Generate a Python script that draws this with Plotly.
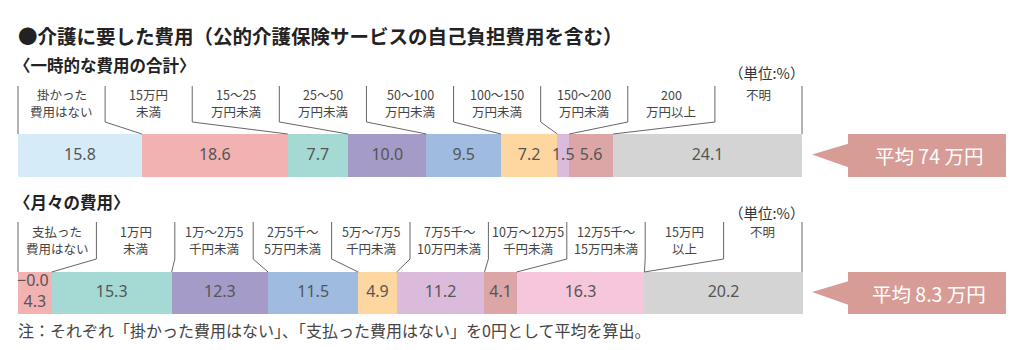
import numpy as np
import plotly.graph_objects as go

# ---------------- data ----------------
title = "●介護に要した費用（公的介護保険サービスの自己負担費用を含む）"
sub1 = "〈一時的な費用の合計〉"
sub2 = "〈月々の費用〉"
unit = "（単位:%）"
note = "注：それぞれ「掛かった費用はない」、「支払った費用はない」を0円として平均を算出。"

cats1 = ["掛かった<br>費用はない", "15万円<br>未満", "15～25<br>万円未満", "25～50<br>万円未満",
         "50～100<br>万円未満", "100～150<br>万円未満", "150～200<br>万円未満", "200<br>万円以上", "不明"]
vals1 = [15.8, 18.6, 7.7, 10.0, 9.5, 7.2, 1.5, 5.6, 24.1]
avg1 = "平均 74 万円"

cats2 = ["支払った<br>費用はない", "1万円<br>未満", "1万～2万5<br>千円未満", "2万5千～<br>5万円未満",
         "5万～7万5<br>千円未満", "7万5千～<br>10万円未満", "10万～12万5<br>千円未満",
         "12万5千～<br>15万円未満", "15万円<br>以上", "不明"]
vals2 = [4.3, 15.3, 12.3, 11.5, 4.9, 11.2, 4.1, 16.3, 0.0, 20.2]
avg2 = "平均 8.3 万円"

colors1 = ["#d5ecf8", "#f2b2b2", "#a5d9d4", "#a49bc8", "#a0bbe0", "#fdd6a0", "#dbbbdc", "#dca6a6", "#d4d4d4"]
colors2 = ["#f2b2b2", "#a5d9d4", "#a49bc8", "#a0bbe0", "#fdd6a0", "#dbbbdc", "#dca6a6", "#f6c6dc", "#d5ecf8", "#d4d4d4"]

# ---------------- layout helpers (pixel geometry) ----------------
W, H = 1024, 350
X0, PX_PER = 18, 7.84          # 0% at 18px, 1% = 7.84px
def px(p):                      # pixel -> axis(%) coordinate
    return (p - X0) / PX_PER

CJK = "Noto Sans CJK JP"
LINE = "#666666"
TXT = "#555555"
CALL = "#d89c96"

rows = [
    dict(cats=cats1, vals=vals1, colors=colors1, avg=avg1, sub=sub1, sub_y=65, unit_y=72,
         top=134, bot=177, lab_top=86, kink=122, line1=94),
    dict(cats=cats2, vals=vals2, colors=colors2, avg=avg2, sub=sub2, sub_y=202, unit_y=212,
         top=272, bot=314, lab_top=222, kink=259, line1=231),
]

fig = go.Figure()
shapes, annos = [], []

for r in rows:
    vals = np.array(r["vals"])
    base = np.concatenate([[0], np.cumsum(vals)[:-1]])
    yc = (r["top"] + r["bot"]) / 2
    thick = r["bot"] - r["top"]
    fig.add_trace(go.Bar(
        orientation="h", y=[yc] * len(vals), x=vals, base=base, width=thick,
        marker=dict(color=r["colors"], line=dict(width=0)),
        hoverinfo="skip", showlegend=False))

    # value labels
    tx, ty, tt, tp = [], [], [], []
    for i, (b, v) in enumerate(zip(base, vals)):
        if v == 0:
            tx.append(px(X0 - 1)); ty.append(yc - 11); tt.append("−" + f"{v:.1f}"); tp.append("middle right")
        elif v < 5 and i == 0:
            tx.append(b + v / 2); ty.append(yc + 10); tt.append(f"{v:.1f}"); tp.append("middle center")
        else:
            tx.append(b + v / 2); ty.append(yc); tt.append(f"{v:.1f}"); tp.append("middle center")
    fig.add_trace(go.Scatter(
        x=tx, y=ty, text=tt, mode="text", textposition=tp,
        textfont=dict(family="Noto Sans", size=16, color=TXT),
        hoverinfo="skip", showlegend=False, cliponaxis=False))

    # category labels and leader lines
    n = len(r["cats"])
    slot = 100 / n
    cum = np.cumsum(vals)
    for k, c in enumerate(r["cats"]):
        for j, part in enumerate(c.split("<br>")):
            annos.append(dict(x=(k + 0.5) * slot, y=r["line1"] + 17 * j, xref="x", yref="y", text=part,
                              showarrow=False, yanchor="middle", xanchor="center",
                              font=dict(family=CJK, size=12.5, color="#444444")))
    shapes.append(dict(type="line", xref="x", yref="y", x0=0, x1=0, y0=r["lab_top"], y1=r["top"],
                       line=dict(color=LINE, width=1)))
    shapes.append(dict(type="line", xref="x", yref="y", x0=100, x1=100, y0=r["lab_top"], y1=r["top"],
                       line=dict(color=LINE, width=1)))
    for k in range(1, n):
        sx = k * slot
        bx = cum[k - 1]
        shapes.append(dict(type="path", xref="x", yref="y",
                           path=f"M {sx},{r['lab_top']} L {sx},{r['kink']} L {bx},{r['top']}",
                           line=dict(color=LINE, width=1)))

    # subtitle and unit
    annos.append(dict(x=px(12), y=r["sub_y"], xref="x", yref="y", text=f"<b>{r['sub']}</b>",
                      showarrow=False, xanchor="left", yanchor="middle",
                      font=dict(family=CJK, size=16.5, color="#222222")))
    annos.append(dict(x=px(806), y=r["unit_y"], xref="x", yref="y", text=unit,
                      showarrow=False, xanchor="right", yanchor="middle",
                      font=dict(family=CJK, size=14.5, color="#333333")))

    # average callout
    shapes.append(dict(type="rect", xref="x", yref="y", x0=px(848), x1=px(1006),
                       y0=r["top"], y1=r["bot"], fillcolor=CALL, line=dict(width=0)))
    shapes.append(dict(type="path", xref="x", yref="y",
                       path=f"M {px(812)},{yc - 1} L {px(849)},{yc - 12} L {px(849)},{yc + 12} Z",
                       fillcolor=CALL, line=dict(width=0)))
    annos.append(dict(x=px(929), y=yc, xref="x", yref="y", text=r["avg"], showarrow=False,
                      xanchor="center", yanchor="middle",
                      font=dict(family=CJK, size=19.5, color="white")))

annos.append(dict(x=px(16), y=35, xref="x", yref="y", text=f"<b>{title}</b>", showarrow=False,
                  xanchor="left", yanchor="middle", font=dict(family=CJK, size=19.5, color="#222222")))
annos.append(dict(x=px(16), y=330, xref="x", yref="y", text=note, showarrow=False,
                  xanchor="left", yanchor="middle", font=dict(family=CJK, size=16, color="#444444")))

fig.update_layout(
    width=W, height=H, margin=dict(l=0, r=0, t=0, b=0),
    paper_bgcolor="white", plot_bgcolor="white",
    barmode="overlay", bargap=0,
    xaxis=dict(range=[px(0), px(W)], visible=False, fixedrange=True),
    yaxis=dict(range=[H, 0], visible=False, fixedrange=True),
    shapes=shapes, annotations=annos, showlegend=False,
)

fig.write_html("out.html")
